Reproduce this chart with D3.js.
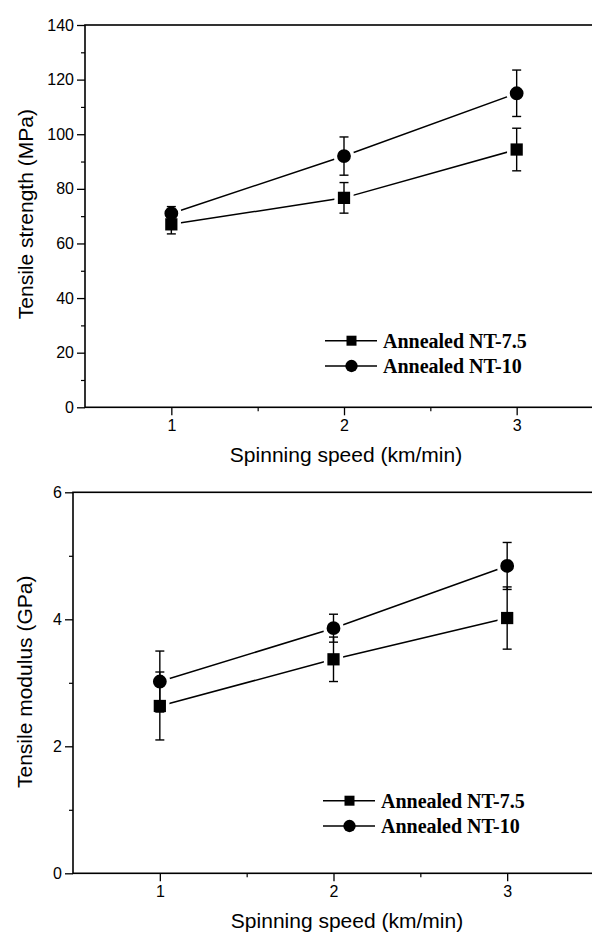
<!DOCTYPE html>
<html>
<head>
<meta charset="utf-8">
<script src="https://cdn.jsdelivr.net/npm/d3@7"></script>
<style>
  html, body { margin: 0; padding: 0; background: #fff; }
  svg { display: block; }
  .tick text { font-family: "Liberation Sans", Arial, sans-serif; }
</style>
</head>
<body>
<svg id="fig" width="592" height="934"></svg>
<script>
// Spinning speed (km/min)
const speeds = [1, 2, 3];
const xTicks = [1, 2, 3];
const xMinorTicks = [1.5, 2.5];

// Tensile strength (MPa), mean and ± error
const strengthNT75 = [67, 76.7, 94.4];
const strengthNT75Err = [3.5, 5.6, 7.8];
const strengthNT10 = [71, 92, 115];
const strengthNT10Err = [2.5, 7, 8.5];
const strengthTicks = [0, 20, 40, 60, 80, 100, 120, 140];
const strengthMinorTicks = [10, 30, 50, 70, 90, 110, 130];

// Tensile modulus (GPa), mean and ± error
const modulusNT75 = [2.635, 3.37, 4.02];
const modulusNT75Err = [0.535, 0.35, 0.49];
const modulusNT10 = [3.02, 3.86, 4.84];
const modulusNT10Err = [0.48, 0.22, 0.37];
const modulusTicks = [0, 2, 4, 6];
const modulusMinorTicks = [1, 3, 5];

const seriesNames = ["Annealed NT-7.5", "Annealed NT-10"];
const seriesSymbols = [d3.symbolSquare, d3.symbolCircle];

const svg = d3.select("#fig");

function panel(cfg) {
  const g = svg.append("g");
  const x = d3.scaleLinear().domain([0.5, 3.5]).range([cfg.left, cfg.right]);
  const y = d3.scaleLinear().domain(cfg.yDomain).range([cfg.bottom, cfg.top]);

  // frame (right side runs past the page edge)
  g.append("rect")
    .attr("x", cfg.left).attr("y", cfg.top)
    .attr("width", cfg.right - cfg.left).attr("height", cfg.bottom - cfg.top)
    .attr("fill", "none").attr("stroke", "#000").attr("stroke-width", 1.6);

  // y axis, major + minor ticks
  const yAxis = d3.axisLeft(y).tickValues(cfg.yTicks).tickSize(8).tickPadding(3).tickFormat(d3.format("d"));
  const ya = g.append("g").attr("transform", `translate(${cfg.left},0)`).call(yAxis);
  ya.select(".domain").remove();
  ya.selectAll("line").attr("stroke-width", 1.3);
  ya.selectAll("text").attr("font-size", 16).attr("fill", "#000");
  const yMinor = d3.axisLeft(y).tickValues(cfg.yMinor).tickSize(4).tickFormat("");
  const ym = g.append("g").attr("transform", `translate(${cfg.left},0)`).call(yMinor);
  ym.select(".domain").remove();
  ym.selectAll("line").attr("stroke-width", 1.2);

  // x axis, major + minor ticks
  const xAxis = d3.axisBottom(x).tickValues(xTicks).tickSize(8).tickPadding(4).tickFormat(d3.format("d"));
  const xa = g.append("g").attr("transform", `translate(0,${cfg.bottom})`).call(xAxis);
  xa.select(".domain").remove();
  xa.selectAll("line").attr("stroke-width", 1.3);
  xa.selectAll("text").attr("font-size", 16).attr("fill", "#000");
  const xMinor = d3.axisBottom(x).tickValues(xMinorTicks).tickSize(4).tickFormat("");
  const xm = g.append("g").attr("transform", `translate(0,${cfg.bottom})`).call(xMinor);
  xm.select(".domain").remove();
  xm.selectAll("line").attr("stroke-width", 1.2);

  // axis titles
  g.append("text")
    .attr("transform", `translate(${cfg.yTitleX},${(cfg.top + cfg.bottom) / 2 + cfg.yTitleShift}) rotate(-90)`)
    .attr("text-anchor", "middle")
    .attr("font-family", "Liberation Sans, Arial, sans-serif")
    .attr("font-size", 21)
    .text(cfg.yTitle);
  g.append("text")
    .attr("x", cfg.xTitleX).attr("y", cfg.xTitleY)
    .attr("text-anchor", "middle")
    .attr("font-family", "Liberation Sans, Arial, sans-serif")
    .attr("font-size", 21)
    .text("Spinning speed (km/min)");

  const line = d3.line().x(d => x(d[0])).y(d => y(d[1]));
  const symSize = [150, 150];

  // connecting lines
  cfg.series.forEach(s => {
    g.append("path")
      .datum(speeds.map((v, i) => [v, s.values[i]]))
      .attr("d", line).attr("fill", "none").attr("stroke", "#000").attr("stroke-width", 1.5);
  });

  // white gap around markers
  cfg.series.forEach((s, k) => {
    g.selectAll(null).data(speeds).enter().append("path")
      .attr("transform", (v, i) => `translate(${x(v)},${y(s.values[i])})`)
      .attr("d", d3.symbol().type(seriesSymbols[k]).size(symSize[k]))
      .attr("fill", "#fff").attr("stroke", "#fff").attr("stroke-width", 7);
  });

  // error bars
  cfg.series.forEach(s => {
    speeds.forEach((v, i) => {
      const cx = x(v), hi = y(s.values[i] + s.err[i]), lo = y(s.values[i] - s.err[i]);
      g.append("line").attr("x1", cx).attr("x2", cx).attr("y1", hi).attr("y2", lo)
        .attr("stroke", "#000").attr("stroke-width", 1.4);
      [hi, lo].forEach(yy => g.append("line")
        .attr("x1", cx - 4.5).attr("x2", cx + 4.5).attr("y1", yy).attr("y2", yy)
        .attr("stroke", "#000").attr("stroke-width", 1.4));
    });
  });

  // markers
  cfg.series.forEach((s, k) => {
    g.selectAll(null).data(speeds).enter().append("path")
      .attr("transform", (v, i) => `translate(${x(v)},${y(s.values[i])})`)
      .attr("d", d3.symbol().type(seriesSymbols[k]).size(symSize[k]))
      .attr("fill", "#000");
  });

  // legend
  seriesNames.forEach((name, k) => {
    const ly = cfg.legendY + k * 25.3;
    g.append("line").attr("x1", cfg.legendX).attr("x2", cfg.legendX + 52)
      .attr("y1", ly).attr("y2", ly).attr("stroke", "#000").attr("stroke-width", 1.5);
    g.append("path").attr("transform", `translate(${cfg.legendX + 26.5},${ly})`)
      .attr("d", d3.symbol().type(seriesSymbols[k]).size(k === 0 ? 100 : 120))
      .attr("fill", "#000");
    g.append("text").attr("x", cfg.legendX + 58).attr("y", ly + 7)
      .attr("font-family", "Liberation Serif, 'Times New Roman', serif")
      .attr("font-weight", "bold").attr("font-size", 20)
      .text(name);
  });
}

panel({
  left: 85, right: 603, top: 25, bottom: 407.3,
  yDomain: [0, 140], yTicks: strengthTicks, yMinor: strengthMinorTicks,
  yTitle: "Tensile strength (MPa)", yTitleX: 33, yTitleShift: -2,
  xTitleX: 346, xTitleY: 462,
  legendX: 325, legendY: 340.7,
  series: [
    { values: strengthNT75, err: strengthNT75Err },
    { values: strengthNT10, err: strengthNT10Err }
  ]
});

panel({
  left: 73, right: 594, top: 492.3, bottom: 873.3,
  yDomain: [0, 6], yTicks: modulusTicks, yMinor: modulusMinorTicks,
  yTitle: "Tensile modulus (GPa)", yTitleX: 32, yTitleShift: -1,
  xTitleX: 347, xTitleY: 928,
  legendX: 323, legendY: 800.7,
  series: [
    { values: modulusNT75, err: modulusNT75Err },
    { values: modulusNT10, err: modulusNT10Err }
  ]
});
</script>
</body>
</html>
